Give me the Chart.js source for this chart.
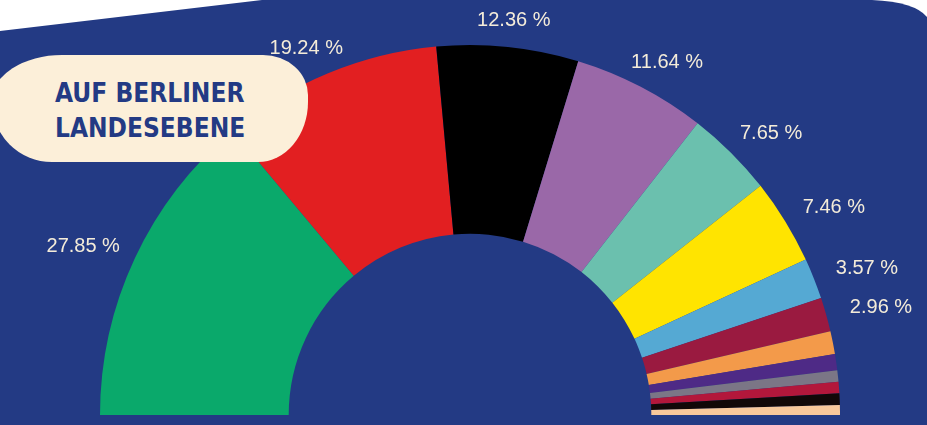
<!DOCTYPE html>
<html>
<head>
<meta charset="utf-8">
<script src="https://cdn.jsdelivr.net/npm/chart.js@4.4.1/dist/chart.umd.min.js"></script>
<style>
  html, body { margin: 0; padding: 0; background: #ffffff; overflow: hidden; }
  #wrap { position: relative; width: 927px; height: 425px; }
  canvas { position: absolute; left: 0; top: 0; }
  #badge {
    position: absolute; left: -8px; top: 55px; width: 316px; height: 107px;
    background: #fcefd9;
    border-radius: 70px 45px 50px 60px / 45px 40px 60px 60px;
    box-sizing: border-box;
    padding: 21px 0 0 63px;
    color: #233a84;
    font-family: "Liberation Sans Narrow", "DejaVu Sans Condensed", sans-serif;
    font-weight: bold;
    font-size: 26px;
    line-height: 35px;
    letter-spacing: 0px;
  }
</style>
</head>
<body>
<div id="wrap">
  <canvas id="c" width="927" height="425"></canvas>
  <div id="badge">AUF BERLINER<br>LANDESEBENE</div>
</div>
<script>
const categories = ["Partei 1","Partei 2","Partei 3","Partei 4","Partei 5","Partei 6","Partei 7","Partei 8","Partei 9","Partei 10","Partei 11","Partei 12","Partei 13","Partei 14"];
const shares = [27.85, 19.24, 12.36, 11.64, 7.65, 7.46, 3.57, 2.96, 2.0, 1.4, 1.0, 1.0, 1.0, 0.87];
const shownLabels = ["27.85 %","19.24 %","12.36 %","11.64 %","7.65 %","7.46 %","3.57 %","2.96 %","","","","","",""];
const colors = ["#0aa96b","#e21f21","#000000","#9a68a8","#6bc0ae","#ffe400","#55a9d3","#9a1a40","#f39a4a","#4e2a86","#7b7686","#b3173b","#120808","#f8c89b"];

const bgPlugin = {
  id: 'bg',
  beforeDraw(chart) {
    const ctx = chart.ctx;
    ctx.save();
    ctx.fillStyle = '#ffffff';
    ctx.fillRect(0, 0, chart.width, chart.height);
    ctx.fillStyle = '#233a84';
    ctx.beginPath();
    ctx.moveTo(0, 31);
    ctx.lineTo(262, 0);
    ctx.lineTo(872, 0);
    ctx.quadraticCurveTo(915, 2, 927, 17);
    ctx.lineTo(927, 425);
    ctx.lineTo(0, 425);
    ctx.closePath();
    ctx.fill();
    ctx.restore();
  }
};

const labelPlugin = {
  id: 'pctLabels',
  afterDatasetsDraw(chart) {
    const ctx = chart.ctx;
    const meta = chart.getDatasetMeta(0);
    ctx.save();
    ctx.fillStyle = '#f4ecd9';
    ctx.font = '20px "Liberation Sans", Arial, sans-serif';
    ctx.textAlign = 'center';
    ctx.textBaseline = 'middle';
    meta.data.forEach((arc, i) => {
      const txt = shownLabels[i];
      if (!txt) return;
      const p = arc.getProps(['x','y','startAngle','endAngle','outerRadius'], true);
      const a = (p.startAngle + p.endAngle) / 2;
      const r = p.outerRadius + 27;
      const x = p.x + Math.cos(a) * r + Math.cos(a) * 30;
      const y = p.y + Math.sin(a) * r;
      ctx.fillText(txt, x, y);
    });
    ctx.restore();
  }
};

new Chart(document.getElementById('c'), {
  type: 'doughnut',
  data: {
    labels: categories,
    datasets: [{
      data: shares,
      backgroundColor: colors,
      borderWidth: 0
    }]
  },
  options: {
    responsive: false,
    animation: false,
    rotation: -90,
    circumference: 180,
    cutout: '49%',
    layout: { padding: { left: 100, right: 87, top: 45, bottom: 10 } },
    plugins: { legend: { display: false }, tooltip: { enabled: false } }
  },
  plugins: [bgPlugin, labelPlugin]
});
</script>
</body>
</html>
